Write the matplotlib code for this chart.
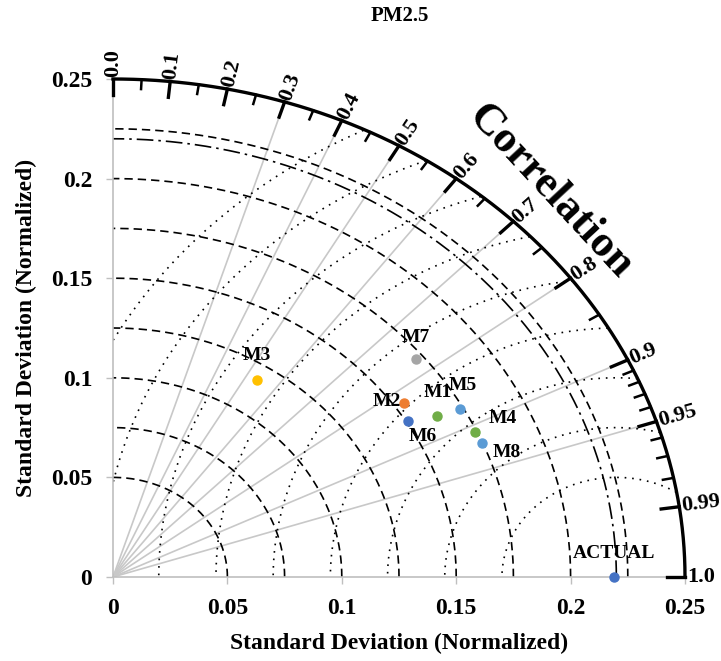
import numpy as np
import matplotlib.pyplot as plt

plt.rcParams['font.family'] = ['Liberation Serif', 'DejaVu Serif']
plt.rcParams['font.weight'] = 'bold'

# ---------------------------------------------------------------
# data (x = sd*corr, y = sd*sin(acos(corr)))
# ---------------------------------------------------------------
names = ['M1', 'M2', 'M3', 'M4', 'M5', 'M6', 'M7', 'M8', 'ACTUAL']
x_sd = [0.1418, 0.1270, 0.0628, 0.1582, 0.1517, 0.1288, 0.1324, 0.1611, 0.2190]
y_sd = [0.0807, 0.0872, 0.0987, 0.0726, 0.0843, 0.0783, 0.1093, 0.0673, 0.0]
colors = ['#70AD47', '#ED7D31', '#FFC000', '#70AD47', '#5B9BD5',
          '#4472C4', '#A5A5A5', '#5B9BD5', '#4472C4']
# label offsets (points)
lab_off = [(0, 17), (-12, 1), (0, 18), (20, 10), (2, 17),
           (11, -11), (0, 16), (18, -7), (0, 17)]

R_MAX = 0.25
REF_SD = 0.22
sd_circles = [0.05, 0.075, 0.1, 0.125, 0.15, 0.175, 0.2, 0.225]
rms_circles = [0.05, 0.075, 0.1, 0.125, 0.15, 0.175, 0.2, 0.225, 0.25]
corr_lines = [0.3, 0.4, 0.5, 0.6, 0.7, 0.8, 0.9, 0.95]
corr_major = [0.0, 0.1, 0.2, 0.3, 0.4, 0.5, 0.6, 0.7, 0.8, 0.9, 0.95, 0.99, 1.0]
corr_major_lbl = ['0.0', '0.1', '0.2', '0.3', '0.4', '0.5', '0.6', '0.7',
                  '0.8', '0.9', '0.95', '0.99', '1.0']
corr_minor = [0.05, 0.15, 0.25, 0.35, 0.45, 0.55, 0.65, 0.75, 0.85,
              0.91, 0.92, 0.93, 0.94, 0.96, 0.97, 0.98]

fig = plt.figure(figsize=(7.21, 6.61), dpi=100)
ax = fig.add_axes([113/721, 84/661, 572/721, 498/661])
ax.set_xlim(0, R_MAX)
ax.set_ylim(0, R_MAX)

# pixel scales, so radial text follows the stretched axes
sx = 572 / R_MAX
sy = 498 / R_MAX

th = np.linspace(0, np.pi / 2, 400)

# gray correlation rays
for c in corr_lines:
    a = np.arccos(c)
    ax.plot([0, R_MAX*np.cos(a)], [0, R_MAX*np.sin(a)], color='#C8C8C8', lw=1.2, zorder=1)

# std dev circles (dashed)
for r in sd_circles:
    ax.plot(r*np.cos(th), r*np.sin(th), color='black', lw=1.2,
            ls=(0, (5, 3)), zorder=2)
# reference sd (dash-dot)
ax.plot(REF_SD*np.cos(th), REF_SD*np.sin(th), color='black', lw=1.2,
        ls=(0, (10, 3, 1.5, 3)), zorder=2)

# centred RMS circles (dotted)
t2 = np.linspace(0, np.pi, 800)
for r in rms_circles:
    cx = REF_SD + r*np.cos(t2)
    cy = r*np.sin(t2)
    m = (np.hypot(cx, cy) > R_MAX) | (cx < 0)
    cx = np.where(m, np.nan, cx)
    cy = np.where(m, np.nan, cy)
    ax.plot(cx, cy, color='black', lw=1.2, ls=(0, (1, 3.5)), zorder=2)

# outer arc
ax.plot(R_MAX*np.cos(th), R_MAX*np.sin(th), color='black', lw=2.4,
        clip_on=False, zorder=5, solid_capstyle='projecting')

# arc ticks
for c in corr_major:
    a = np.arccos(c)
    ax.plot([R_MAX*np.cos(a), R_MAX*0.968*np.cos(a)],
            [R_MAX*np.sin(a), R_MAX*0.968*np.sin(a)],
            color='black', lw=2.4, clip_on=False, zorder=5)
for c in corr_minor:
    a = np.arccos(c)
    ax.plot([R_MAX*np.cos(a), R_MAX*0.981*np.cos(a)],
            [R_MAX*np.sin(a), R_MAX*0.981*np.sin(a)],
            color='black', lw=1.8, clip_on=False, zorder=5)

# arc tick labels
for c, lbl in zip(corr_major, corr_major_lbl):
    a = np.arccos(c)
    phi = np.arctan2(np.sin(a)*sy, np.cos(a)*sx)
    ax.annotate(lbl, (R_MAX*np.cos(a), R_MAX*np.sin(a)),
                xytext=(1.5*np.cos(phi), 1.5*np.sin(phi)), textcoords='offset points',
                rotation=np.degrees(phi), rotation_mode='anchor',
                ha='left', va='center', fontsize=16, fontweight='bold',
                annotation_clip=False)

ax.text(0.1915, 0.1935, 'Correlation', rotation=-47, fontsize=32,
        fontweight='bold', ha='center', va='center')

# points
for n, x, y, col, off in zip(names, x_sd, y_sd, colors, lab_off):
    ax.plot(x, y, 'o', color=col, ms=6.5, zorder=6, clip_on=False)
    ax.annotate(n, (x, y), xytext=off, textcoords='offset points',
                ha='center', va='center', fontsize=14, fontweight='bold', zorder=7)

# axes cosmetics
for s in ['top', 'right']:
    ax.spines[s].set_visible(False)
for s in ['left', 'bottom']:
    ax.spines[s].set_color('#BFBFBF')
    ax.spines[s].set_linewidth(1.2)
ax.set_xticks([0, 0.05, 0.1, 0.15, 0.2, 0.25])
ax.set_xticklabels(['0', '0.05', '0.1', '0.15', '0.2', '0.25'])
ax.set_yticks([0, 0.05, 0.1, 0.15, 0.2, 0.25])
ax.set_yticklabels(['0', '0.05', '0.1', '0.15', '0.2', '0.25'])
ax.tick_params(colors='#BFBFBF', labelcolor='black', length=5, width=1,
               labelsize=17, pad=10)
ax.set_xlabel('Standard Deviation (Normalized)', fontsize=17, fontweight='bold', labelpad=10)
ax.set_ylabel('Standard Deviation (Normalized)', fontsize=17, fontweight='bold', labelpad=10)
fig.text(400/721, 1 - 16/661, 'PM2.5', fontsize=15, fontweight='bold',
         ha='center', va='center')

fig.savefig('out.png', dpi=100)
